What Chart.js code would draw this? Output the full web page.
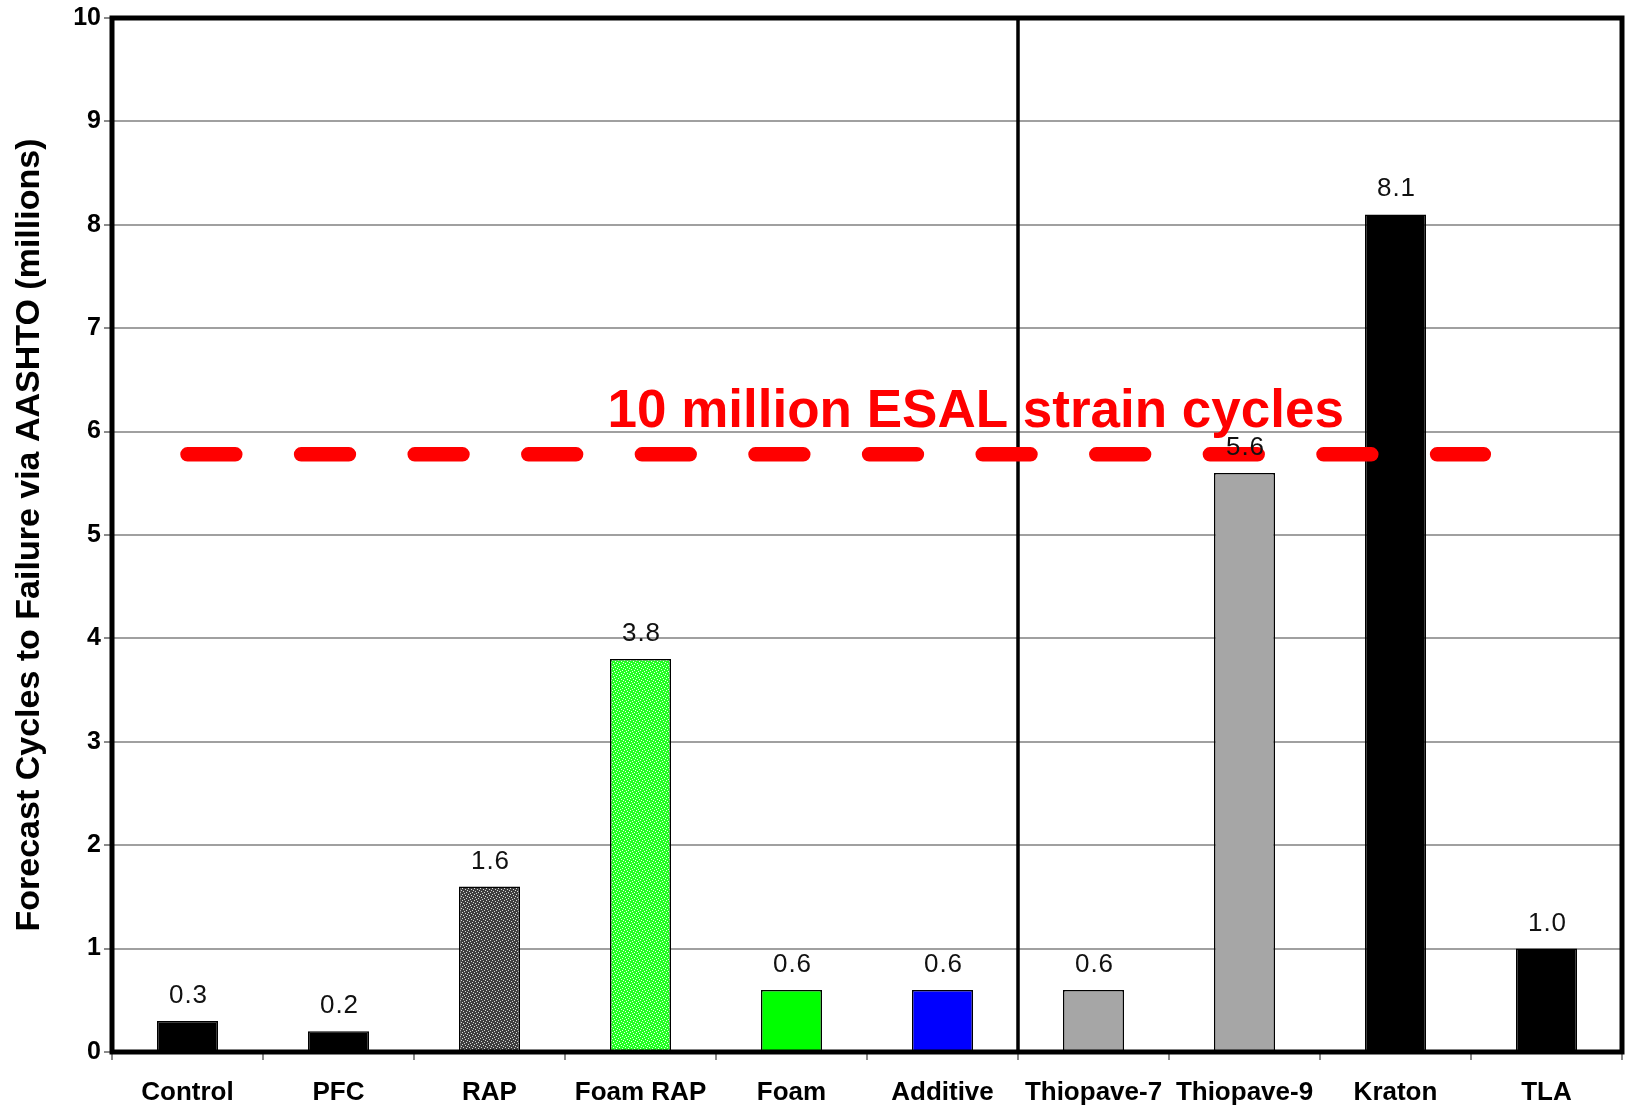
<!DOCTYPE html>
<html>
<head>
<meta charset="utf-8">
<title>Forecast Cycles to Failure</title>
<script src="https://cdn.jsdelivr.net/npm/chart.js@4/dist/chart.umd.min.js"></script>
<style>
  html, body { margin: 0; padding: 0; background: #ffffff; }
  #wrap { width: 1627px; height: 1105px; }
</style>
</head>
<body>
<div id="wrap"><canvas id="chart" width="1627" height="1105"></canvas></div>
<script>
// Mixes and their forecast fatigue life (millions of cycles)
const categories = ['Control', 'PFC', 'RAP', 'Foam RAP', 'Foam', 'Additive',
                    'Thiopave-7', 'Thiopave-9', 'Kraton', 'TLA'];
const cyclesMillions = [0.3, 0.2, 1.6, 3.8, 0.6, 0.6, 0.6, 5.6, 8.1, 1.0];
const yTicks = [0, 1, 2, 3, 4, 5, 6, 7, 8, 9, 10];

// Reference level: 10 million ESAL strain cycles
const esalLevel = 5.78;
const esalSpan = [0, 8.585];          // category positions where the dashed line starts/ends
const esalLabel = '10 million ESAL strain cycles';
const esalLabelAt = [5.22, 6.04];     // category position, value of the label baseline
const groupSplitAfter = 5;            // vertical divider after "Additive"

const FONT = "'Liberation Sans', Arial, Helvetica, sans-serif";

// Speckled fills for the RAP mixes
function speckle(base, dot) {
  const c = document.createElement('canvas');
  c.width = 6; c.height = 6;
  const g = c.getContext('2d');
  g.fillStyle = base; g.fillRect(0, 0, 6, 6);
  g.fillStyle = dot;
  [[0,0],[3,1],[1,3],[4,4],[5,2],[2,5]].forEach(([x, y]) => g.fillRect(x, y, 1, 1));
  return g.createPattern(c, 'repeat');
}
const ctx0 = document.getElementById('chart').getContext('2d');
const barColors = ['#000000', '#000000', speckle('#3e3e3e', '#d8d8d8'), speckle('#22ff22', '#e8ffe8'),
                   '#00ff00', '#0000ff', '#a6a6a6', '#a6a6a6', '#000000', '#000000'];

// Frame, group divider, ESAL line, value labels and the ESAL caption
const overlay = {
  id: 'overlay',
  afterDatasetsDraw(chart) {
    const { ctx, chartArea: a, scales: { x, y } } = chart;
    const posX = v => {
      const i = Math.floor(v), f = v - i;
      const p0 = x.getPixelForValue(i);
      const step = x.getPixelForValue(1) - x.getPixelForValue(0);
      return p0 + f * step;
    };
    ctx.save();
    // plot frame
    ctx.strokeStyle = '#000'; ctx.lineWidth = 5;
    ctx.strokeRect(a.left, a.top, a.right - a.left, a.bottom - a.top);
    // divider between the two groups
    const dx = posX(groupSplitAfter + 0.5);
    ctx.lineWidth = 3.5;
    ctx.beginPath(); ctx.moveTo(dx, a.top); ctx.lineTo(dx, a.bottom); ctx.stroke();
    // ESAL dashed line
    const ly = y.getPixelForValue(esalLevel);
    ctx.strokeStyle = '#ff0000'; ctx.lineWidth = 14.5; ctx.lineCap = 'round';
    ctx.setLineDash([47.8, 65.8]);
    ctx.beginPath(); ctx.moveTo(posX(esalSpan[0]), ly); ctx.lineTo(posX(esalSpan[1]), ly); ctx.stroke();
    ctx.setLineDash([]);
    // value labels
    const meta = chart.getDatasetMeta(0);
    ctx.fillStyle = '#111111';
    ctx.font = `26px ${FONT}`;
    ctx.textAlign = 'center'; ctx.textBaseline = 'alphabetic';
    ctx.letterSpacing = '1px';
    meta.data.forEach((bar, i) => {
      ctx.fillText(cyclesMillions[i].toFixed(1), bar.x + 1, bar.y - 18);
    });
    ctx.letterSpacing = '0px';
    // ESAL caption
    ctx.fillStyle = '#ff0000';
    ctx.font = `bold 53px ${FONT}`;
    ctx.fillText(esalLabel, posX(esalLabelAt[0]), y.getPixelForValue(esalLabelAt[1]));
    ctx.restore();
  }
};

new Chart(ctx0, {
  type: 'bar',
  data: {
    labels: categories,
    datasets: [{
      data: cyclesMillions,
      backgroundColor: barColors,
      borderColor: '#000000',
      borderWidth: 1.5,
      barPercentage: 0.404,
      categoryPercentage: 1.0
    }]
  },
  options: {
    responsive: false,
    devicePixelRatio: 1,
    animation: false,
    layout: { padding: { top: 16, right: 5, left: 0, bottom: 0 } },
    plugins: { legend: { display: false }, tooltip: { enabled: false } },
    scales: {
      x: {
        offset: true,
        border: { display: false },
        grid: { drawOnChartArea: false, drawTicks: true, tickLength: 8, tickColor: '#8a8a8a', lineWidth: 2, offset: true },
        ticks: { color: '#000', font: { family: FONT, size: 26, weight: 'bold' }, padding: 17, maxRotation: 0, autoSkip: false },
        afterFit: s => { s.height = 53; }
      },
      y: {
        min: 0, max: 10,
        border: { display: false },
        afterBuildTicks: s => { s.ticks = yTicks.map(v => ({ value: v })); },
        grid: { color: '#a0a0a0', lineWidth: 2, tickLength: 8, tickColor: '#8a8a8a' },
        ticks: { color: '#000', font: { family: FONT, size: 25, weight: 'bold' }, padding: 3 },
        title: {
          display: true,
          text: 'Forecast Cycles to Failure via AASHTO (millions)',
          color: '#000',
          font: { family: FONT, size: 34, weight: 'bold' },
          padding: { top: 9, bottom: 0 }
        },
        afterFit: s => { s.width = 112; }
      }
    }
  },
  plugins: [overlay]
});
</script>
</body>
</html>
